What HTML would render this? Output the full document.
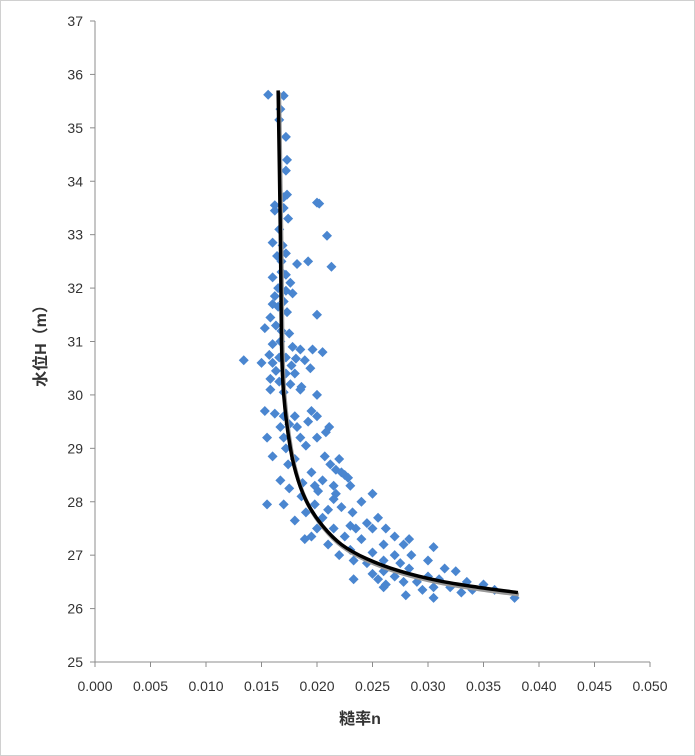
<!DOCTYPE html>
<html><head><meta charset="utf-8"><style>
html,body{margin:0;padding:0;background:#fff;}
svg{display:block;font-family:"Liberation Sans","Noto Sans CJK SC",sans-serif;}
</style></head><body>
<svg id="chart" width="695" height="756">
<rect x="0.5" y="0.5" width="694" height="755" fill="#fff" stroke="#d0d0d0"/>
<g id="axes"></g><g id="pts"></g><g id="trend"></g>
<text x="360" y="724" font-size="16" font-weight="bold" text-anchor="middle" fill="#333">糙率n</text>
<text transform="translate(46,342) rotate(-90)" font-size="16" font-weight="bold" text-anchor="middle" fill="#333">水位H（m）</text>
</svg>
<script>
const xTicks=[0,0.005,0.01,0.015,0.02,0.025,0.03,0.035,0.04,0.045,0.05];
const yTicks=[25,26,27,28,29,30,31,32,33,34,35,36,37];
const ptN=[0.0156,0.0170,0.0167,0.0166,0.0172,0.0173,0.0172,0.0173,0.0170,0.0162,0.0162,0.0200,0.0202,0.0170,0.0174,0.0166,0.0209,0.0160,0.0169,0.0172,0.0164,0.0168,0.0192,0.0182,0.0213,0.0168,0.0172,0.0160,0.0176,0.0165,0.0172,0.0178,0.0162,0.0170,0.0160,0.0165,0.0173,0.0200,0.0158,0.0163,0.0153,0.0168,0.0175,0.0167,0.0160,0.0178,0.0185,0.0196,0.0205,0.0157,0.0166,0.0172,0.0181,0.0189,0.0134,0.0150,0.0160,0.0177,0.0194,0.0163,0.0172,0.0180,0.0158,0.0166,0.0176,0.0186,0.0158,0.0170,0.0185,0.0200,
0.0153,0.0162,0.0170,0.0180,0.0195,0.0200,0.0175,0.0192,0.0167,0.0182,0.0211,0.0208,0.0155,0.0170,0.0200,0.0185,0.0190,0.0172,0.0220,0.0207,0.0160,0.0180,0.0174,0.0212,0.0217,0.0222,0.0195,0.0225,0.0228,0.0167,0.0205,0.0187,0.0198,0.0215,0.0230,0.0175,0.0201,0.0217,0.0250,0.0186,0.0215,0.0240,0.0170,0.0155,0.0198,0.0222,0.0210,0.0190,0.0232,0.0205,0.0180,0.0255,0.0245,0.0230,0.0215,0.0200,0.0235,0.0250,0.0262,0.0270,0.0195,0.0225,0.0240,0.0283,0.0278,0.0210,0.0189,0.0260,0.0305,0.0230,0.0250,0.0270,0.0220,0.0285,0.0233,0.0260,0.0300,0.0245,0.0275,0.0315,0.0325,0.0283,0.0260,0.0250,0.0300,0.0270,0.0233,0.0255,0.0310,0.0290,0.0335,0.0350,0.0320,0.0305,0.0260,0.0340,0.0295,0.0330,0.0280,0.0305,0.0360,0.0378,0.0262,0.0278];
const ptH=[35.62,35.60,35.35,35.15,34.83,34.40,34.2,33.75,33.7,33.55,33.45,33.6,33.58,33.5,33.3,33.1,32.98,32.85,32.8,32.65,32.6,32.5,32.5,32.45,32.4,32.3,32.25,32.2,32.1,32.0,31.95,31.9,31.85,31.75,31.7,31.65,31.55,31.5,31.45,31.3,31.25,31.2,31.15,31.0,30.95,30.9,30.85,30.85,30.8,30.75,30.7,30.7,30.68,30.65,30.65,30.6,30.6,30.55,30.5,30.45,30.4,30.4,30.3,30.25,30.2,30.15,30.1,30.05,30.1,30.0,
29.7,29.65,29.6,29.6,29.7,29.6,29.45,29.5,29.4,29.4,29.4,29.3,29.2,29.2,29.2,29.2,29.05,29.0,28.8,28.85,28.85,28.8,28.7,28.7,28.6,28.55,28.55,28.5,28.45,28.4,28.4,28.35,28.3,28.3,28.3,28.25,28.2,28.15,28.15,28.1,28.05,28.0,27.95,27.95,27.95,27.9,27.85,27.8,27.8,27.7,27.65,27.7,27.6,27.55,27.5,27.5,27.5,27.5,27.5,27.35,27.35,27.35,27.3,27.3,27.2,27.2,27.3,27.2,27.15,27.1,27.05,27.0,27.0,27.0,26.9,26.9,26.9,26.85,26.85,26.75,26.7,26.75,26.7,26.65,26.6,26.6,26.55,26.55,26.55,26.5,26.5,26.45,26.4,26.4,26.4,26.35,26.35,26.3,26.25,26.2,26.35,26.2,26.45,26.5];
const trendN=[0.0165,0.0167,0.0168,0.0170,0.0176,0.0183,0.0192,0.0205,0.0222,0.0245,0.0275,0.0310,0.0345,0.0381];
const trendH=[35.7,33,31,30,29,28.4,27.95,27.55,27.2,26.93,26.7,26.52,26.4,26.3];
const NS="http://www.w3.org/2000/svg";
const X0=95,X1=650,Y0=662,Y1=21;
const xs=v=>X0+(v-0)/0.05*(X1-X0);
const ys=v=>Y0-(v-25)/12*(Y0-Y1);
function mk(t,a,p){const e=document.createElementNS(NS,t);for(const k in a)e.setAttribute(k,a[k]);p.appendChild(e);return e;}
const ax=document.getElementById('axes');
let l=mk('line',{x1:X0,y1:Y0,x2:X1,y2:Y0,stroke:'#8c8c8c'},ax);


l=mk('line',{x1:X0,y1:Y0,x2:X0,y2:Y1,stroke:'#8c8c8c'},ax);


xTicks.forEach(v=>{
 mk('line',{x1:xs(v),y1:Y0,x2:xs(v),y2:Y0+5,stroke:'#8c8c8c'},ax);
 const t=mk('text',{x:xs(v),y:Y0+29,'font-size':14,'text-anchor':'middle',fill:'#333'},ax);
 t.textContent=v.toFixed(3);
 
 
});
yTicks.forEach(v=>{
 mk('line',{x1:X0-5,y1:ys(v),x2:X0,y2:ys(v),stroke:'#8c8c8c'},ax);
 const t=mk('text',{x:X0-12,y:ys(v)+5,'font-size':14,'text-anchor':'end',fill:'#333'},ax);
 t.textContent=v;
 
 
});
const pg=document.getElementById('pts');
ptN.forEach((n,i)=>{
 const x=xs(n),y=ys(ptH[i]),r=5;
 const p=mk('polygon',{points:`${x},${y-r} ${x+r},${y} ${x},${y+r} ${x-r},${y}`,fill:'#4a86d0'},pg);
 
 
});
const P=trendN.map((n,i)=>[xs(n),ys(trendH[i])]);
let d=`M${P[0][0]},${P[0][1]}`;
for(let i=0;i<P.length-1;i++){
 const p0=P[Math.max(0,i-1)],p1=P[i],p2=P[i+1],p3=P[Math.min(P.length-1,i+2)];
 d+=` C${p1[0]+(p2[0]-p0[0])/6},${p1[1]+(p2[1]-p0[1])/6} ${p2[0]-(p3[0]-p1[0])/6},${p2[1]-(p3[1]-p1[1])/6} ${p2[0]},${p2[1]}`;
}
const tg=document.getElementById('trend');
mk('path',{d:d,fill:'none',stroke:'#999',"stroke-width":4,transform:'translate(1,2)'},tg);
const tp=mk('path',{d:d,fill:'none',stroke:'#000',"stroke-width":3.5},tg);


</script>
</body></html>
